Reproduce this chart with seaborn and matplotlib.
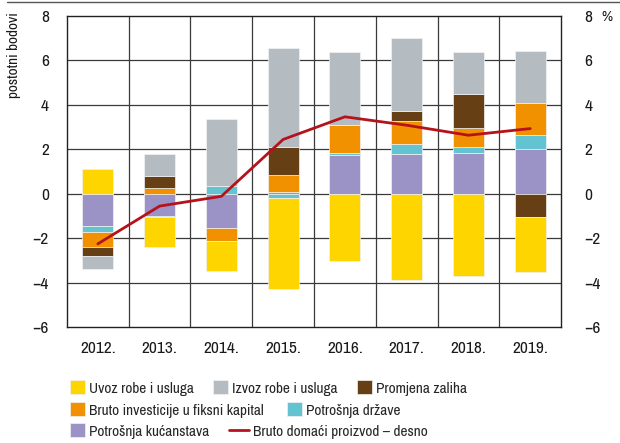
import numpy as np
import matplotlib
matplotlib.use("Agg")
import matplotlib.pyplot as plt
import seaborn as sns
from matplotlib.lines import Line2D

years = ['2012.', '2013.', '2014.', '2015.', '2016.', '2017.', '2018.', '2019.']

# doprinosi rastu, postotni bodovi
kucanstva = [-1.44, -0.99, -1.55, 0.08, 1.73, 1.79, 1.85, 2.00]
drzava = [-0.30, -0.05, 0.35, -0.18, 0.12, 0.45, 0.26, 0.65]
investicije = [-0.66, 0.24, -0.56, 0.75, 1.26, 1.02, 0.83, 1.43]
zalihe = [-0.42, 0.54, -0.03, 1.26, 0.00, 0.48, 1.56, -1.05]
izvoz = [-0.56, 0.99, 3.00, 4.48, 3.28, 3.25, 1.86, 2.32]
uvoz = [1.13, -1.35, -1.35, -4.09, -3.01, -3.89, -3.70, -2.47]
bdp = [-2.26, -0.56, -0.12, 2.44, 3.46, 3.08, 2.63, 2.93]

series = [
    ('Potrošnja kućanstava', kucanstva, '#9b92c6'),
    ('Potrošnja države', drzava, '#63c3d1'),
    ('Bruto investicije u fiksni kapital', investicije, '#f29100'),
    ('Promjena zaliha', zalihe, '#664014'),
    ('Izvoz robe i usluga', izvoz, '#b4bcc2'),
    ('Uvoz robe i usluga', uvoz, '#ffd500'),
]

sns.set_theme(style='white')
plt.rcParams['font.family'] = ['Archivo Narrow', 'DejaVu Sans']
plt.rcParams['axes.unicode_minus'] = True
FS = 11

fig = plt.figure(figsize=(6.2, 4.43), dpi=100)
ax = fig.add_axes([0.108, 0.262, 0.797, 0.702])

x = np.arange(len(years))
pos = np.zeros(len(years))
neg = np.zeros(len(years))
handles = {}
for name, vals, col in series:
    v = np.array(vals)
    bottom = np.where(v >= 0, pos, neg)
    bars = ax.bar(x, v, width=0.5, bottom=bottom, color=col,
                  edgecolor='#f2f2f2', linewidth=0.5, zorder=2)
    handles[name] = bars
    pos = pos + np.where(v >= 0, v, 0)
    neg = neg + np.where(v < 0, v, 0)

ax.set_xlim(-0.5, len(years) - 0.5)
ax.set_ylim(-6, 8)
ax.set_yticks(range(-6, 9, 2))
ax.set_xticks(x)
ax.set_xticklabels(years)
for yv in range(-4, 8, 2):
    ax.axhline(yv, color='#3a3a3a', lw=0.9, zorder=1)
for xv in np.arange(0.5, len(years) - 0.5, 1):
    ax.axvline(xv, color='#3a3a3a', lw=0.9, zorder=1)
for s in ax.spines.values():
    s.set_color('#222222')
    s.set_linewidth(1.0)
ax.tick_params(axis='both', length=0, labelsize=FS + 1.5, colors='#1a1a1a')
ax.tick_params(axis='y', pad=13)
ax.tick_params(axis='x', pad=10)

ax2 = ax.twinx()
ax2.set_ylim(-6, 8)
ax2.set_yticks(range(-6, 9, 2))
ax2.tick_params(axis='y', length=0, labelsize=FS + 1.5, pad=17, colors='#1a1a1a')
sns.lineplot(x=x, y=bdp, ax=ax2, color='#b5121b', lw=2.0, zorder=3)
for s in ax2.spines.values():
    s.set_visible(False)

fig.text(14 / 620, 1 - 12 / 443, 'postotni bodovi', rotation=90,
         ha='center', va='top', fontsize=FS, color='#1a1a1a')
fig.text(607 / 620, 1 - 17 / 443, '%', ha='center', va='center',
         fontsize=FS, color='#1a1a1a')
fig.add_artist(Line2D([7 / 620, 1.0], [1 - 2 / 443, 1 - 2 / 443],
                      color='#555555', lw=1.0))

line_handle = Line2D([], [], color='#b5121b', lw=2.0)
entries = [
    ('Uvoz robe i usluga', 70, 388),
    ('Izvoz robe i usluga', 213, 388),
    ('Promjena zaliha', 357, 388),
    ('Bruto investicije u fiksni kapital', 70, 410),
    ('Potrošnja države', 287, 410),
    ('Potrošnja kućanstava', 70, 431),
    ('Bruto domaći proizvod – desno', 229, 431),
]
for name, px, py in entries:
    h = handles.get(name, line_handle)
    is_line = name not in handles
    fig.legend(handles=[h], labels=[name], loc='center left',
               bbox_to_anchor=(px / 620, 1 - py / 443), frameon=False,
               borderpad=0, borderaxespad=0,
               handlelength=1.3 if is_line else 1.0,
               handleheight=1.0, handletextpad=0.3 if is_line else 0.25,
               fontsize=FS)

fig.savefig('out.png', dpi=100)
